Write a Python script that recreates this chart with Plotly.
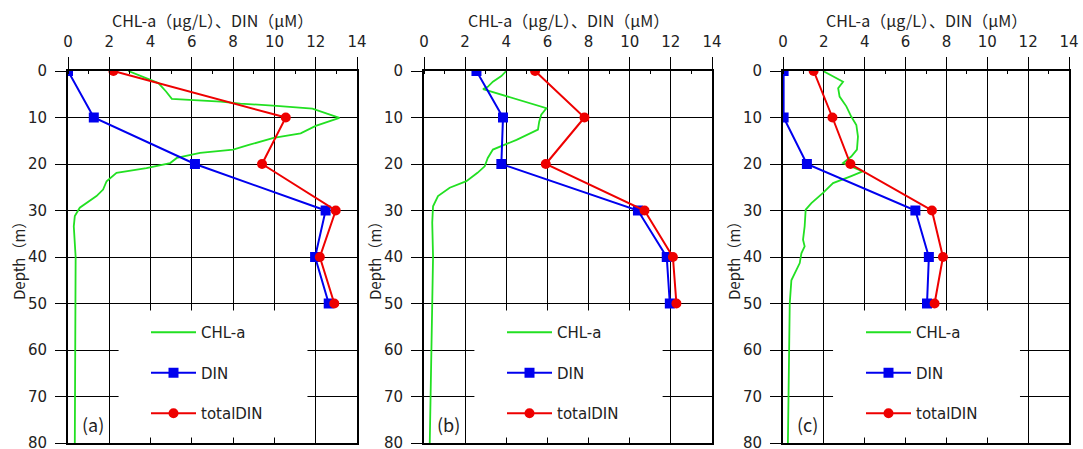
import plotly.graph_objects as go

# ---------------- data ----------------
depth_nut = [0, 10, 20, 30, 40, 50]
din_a = [0.0, 1.25, 6.15, 12.48, 11.97, 12.63]
tdin_a = [2.2, 10.55, 9.4, 12.97, 12.2, 12.9]
din_b = [2.55, 3.84, 3.76, 10.4, 11.8, 11.95]
tdin_b = [5.4, 7.8, 5.92, 10.72, 12.1, 12.27]
din_c = [0.03, 0.03, 1.17, 6.48, 7.14, 7.05]
tdin_c = [1.5, 2.42, 3.3, 7.29, 7.83, 7.42]

chl_a_depth = [0, 2.6, 4.4, 6.0, 6.6, 7.0, 7.5, 8.1, 10.1, 11.8, 13.4, 14.4, 15.9, 16.9, 17.6,
               18.7, 19.8, 20.9, 21.9, 23.7, 25.5, 26.9, 29.4, 31.2, 33.4, 40, 50, 60, 70, 80]
chl_a = [2.92, 4.38, 4.75, 5.03, 7.4, 8.35, 10.1, 11.84, 13.15, 12.0, 11.27, 9.96, 8.76, 8.0, 6.4,
         5.27, 4.95, 3.8, 2.35, 1.87, 1.7, 1.38, 0.57, 0.33, 0.28, 0.37, 0.36, 0.35, 0.34, 0.33]

chl_b_depth = [0, 1.1, 2.3, 3.4, 3.9, 8.0, 9.4, 10.9, 12.6, 14.8, 16.9, 18.7, 20.5, 21.9, 23.7,
               25.1, 26.9, 29.1, 32.6, 40, 50, 60, 70, 80]
chl_b = [4.0, 3.76, 3.35, 3.1, 2.87, 5.95, 5.7, 5.6, 5.54, 4.5, 3.35, 3.1, 2.95, 2.6, 2.06,
         1.25, 0.68, 0.44, 0.4, 0.44, 0.4, 0.36, 0.32, 0.28]

chl_c_depth = [0, 1.2, 2.3, 3.7, 5.5, 7.6, 9.8, 11.6, 14.1, 16.9, 18.4, 19.8, 21.6, 22.6, 24.1,
               26.2, 28.4, 29.8, 33.4, 36.3, 37.7, 39.2, 41.3, 45.0, 50, 60, 70, 80]
chl_c = [1.96, 2.45, 2.94, 2.7, 2.77, 3.1, 3.34, 3.59, 3.67, 3.62, 3.34, 2.94, 3.9, 3.34, 2.45,
         1.96, 1.39, 1.11, 1.06, 0.98, 1.06, 0.9, 0.82, 0.41, 0.33, 0.3, 0.27, 0.24]

panel_labels = ["(a)", "(b)", "(c)"]
x_title = "CHL-a（μg/L）、DIN（μM）"
y_title = "Depth（m）"
x_ticks = [0, 2, 4, 6, 8, 10, 12, 14]
y_ticks = [0, 10, 20, 30, 40, 50, 60, 70, 80]

# ---------------- layout geometry (px) ----------------
W, H = 1083, 449
plot_x = [(68, 357), (424, 712), (783, 1069)]
plot_top, plot_bot = 71, 443

GREEN, BLUE, RED = "#22e022", "#0000ee", "#ee0000"
NUM_FONT = "DejaVu Sans, sans-serif"
JP_FONT = "Noto Sans CJK JP, sans-serif"

panels = [
    (chl_a_depth, chl_a, din_a, tdin_a),
    (chl_b_depth, chl_b, din_b, tdin_b),
    (chl_c_depth, chl_c, din_c, tdin_c),
]

fig = go.Figure()
leg_names = ["legend", "legend2", "legend3"]
for i, (cd, cv, dn, td) in enumerate(panels):
    xa = "x" if i == 0 else f"x{i+1}"
    ya = "y" if i == 0 else f"y{i+1}"
    lg = leg_names[i]
    fig.add_trace(go.Scatter(x=cv, y=cd, mode="lines", name="CHL-a",
                             line=dict(color=GREEN, width=1.8),
                             xaxis=xa, yaxis=ya, legend=lg, legendgroup=f"g{i}a"))
    fig.add_trace(go.Scatter(x=dn, y=depth_nut, mode="lines+markers", name="DIN",
                             line=dict(color=BLUE, width=2),
                             marker=dict(symbol="square", size=10, color=BLUE),
                             xaxis=xa, yaxis=ya, legend=lg, legendgroup=f"g{i}b"))
    fig.add_trace(go.Scatter(x=td, y=depth_nut, mode="lines+markers", name="totalDIN",
                             line=dict(color=RED, width=2),
                             marker=dict(symbol="circle", size=10, color=RED),
                             xaxis=xa, yaxis=ya, legend=lg, legendgroup=f"g{i}c"))

layout = dict(
    width=W, height=H,
    margin=dict(l=0, r=0, t=0, b=0),
    paper_bgcolor="white", plot_bgcolor="white",
    template="none",
    shapes=[], annotations=[],
)

ydom = [1 - plot_bot / H, 1 - plot_top / H]
for i, (x0, x1) in enumerate(plot_x):
    xk = "xaxis" if i == 0 else f"xaxis{i+1}"
    yk = "yaxis" if i == 0 else f"yaxis{i+1}"
    xa = "x" if i == 0 else f"x{i+1}"
    ya = "y" if i == 0 else f"y{i+1}"
    layout[xk] = dict(
        domain=[x0 / W, x1 / W], anchor=ya, side="top", range=[0, 14],
        tickvals=x_ticks, ticks="outside", ticklen=12, tickwidth=1, tickcolor="black",
        ticklabelstandoff=4, ticklabeloverflow="allow",
        tickfont=dict(family=NUM_FONT, size=15, color="#222"),
        showgrid=True, gridcolor="black", gridwidth=1,
        showline=True, linecolor="black", linewidth=2, mirror=True,
        minor=dict(dtick=1, ticks="inside", ticklen=3, tickcolor="black", showgrid=False),
        zeroline=False, automargin=False, fixedrange=True,
    )
    layout[yk] = dict(
        domain=ydom, anchor=xa, range=[80, 0],
        tickvals=y_ticks, ticks="outside", ticklen=11, tickwidth=1, tickcolor="black",
        ticklabelstandoff=5, ticklabeloverflow="allow",
        tickfont=dict(family=NUM_FONT, size=15, color="#222"),
        showgrid=True, gridcolor="black", gridwidth=1,
        showline=True, linecolor="black", linewidth=2, mirror=True,
        zeroline=False, automargin=False, fixedrange=True,
    )
    # white legend box covering the gridlines
    layout["shapes"].append(dict(type="rect", xref=xa, yref=ya, x0=2.45, x1=11.6, y0=51.5, y1=78.8,
                                 fillcolor="white", line=dict(width=0), layer="between"))
    # panel label
    layout["annotations"].append(dict(text=panel_labels[i], xref=xa, yref=ya, x=1.2, y=76,
                                      xanchor="center", yanchor="middle",
                                      showarrow=False, font=dict(family=JP_FONT, size=18, color="#222")))
    # x title
    layout["annotations"].append(dict(text=x_title, xref="paper", yref="paper",
                                      x=(x0 + x1) / 2 / W, y=1 - 20 / H,
                                      xanchor="center", yanchor="middle", showarrow=False,
                                      font=dict(family=JP_FONT, size=16, color="#222")))
    # y title
    layout["annotations"].append(dict(text=y_title, xref="paper", yref="paper",
                                      x=(x0 - 50) / W, y=1 - (plot_top + plot_bot) / 2 / H,
                                      xanchor="center", yanchor="middle",
                                      textangle=-90, showarrow=False,
                                      font=dict(family=JP_FONT, size=15, color="#222")))
    # legend
    layout[leg_names[i]] = dict(
        x=(x0 + 78) / W, y=1 - 316 / H, xanchor="left", yanchor="top",
        bgcolor="rgba(0,0,0,0)", borderwidth=0,
        font=dict(family=NUM_FONT, size=15, color="#222"),
        tracegroupgap=18, itemwidth=45,
    )

fig.update_layout(**layout)
fig.write_html("out.html", config={"displayModeBar": False},
               post_script="document.body.style.margin='0';document.body.style.overflow='hidden';")
